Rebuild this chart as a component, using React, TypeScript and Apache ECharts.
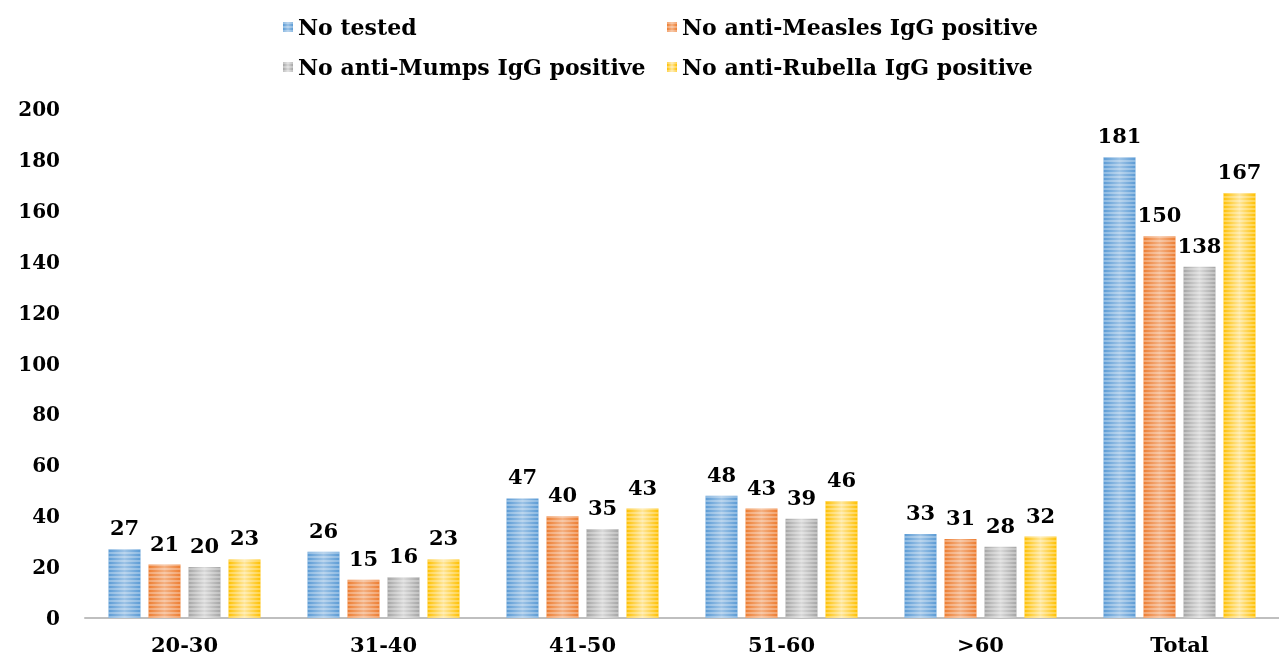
import React, { useEffect, useRef } from "react";
import * as echarts from "echarts";

const categories = ["20-30", "31-40", "41-50", "51-60", ">60", "Total"];
const seriesNames = [
  "No tested",
  "No anti-Measles IgG positive",
  "No anti-Mumps IgG positive",
  "No anti-Rubella IgG positive",
];
const tested = [27, 26, 47, 48, 33, 181];
const measles = [21, 15, 40, 43, 31, 150];
const mumps = [20, 16, 35, 39, 28, 138];
const rubella = [23, 23, 43, 46, 32, 167];
const yTicks = { min: 0, max: 200, interval: 20 };

const colors = ["#5B9BD5", "#ED7D31", "#A5A5A5", "#FFC000"];
const lighter = ["#9DC3E6", "#F4B183", "#D9D9D9", "#FFE699"];
const FONT = "'DejaVu Serif', serif";

export default function App() {
  const ref = useRef<HTMLDivElement>(null);
  useEffect(() => {
    if (!ref.current) return;
    const chart = echarts.init(ref.current, undefined, { renderer: "svg" });
    const values = [tested, measles, mumps, rubella];
    const legendPos = [
      { left: 278, top: 11 },
      { left: 662, top: 11 },
      { left: 278, top: 51 },
      { left: 662, top: 51 },
    ];
    chart.setOption({
      animation: false,
      legend: seriesNames.map((n, i) => ({
        data: [n],
        left: legendPos[i].left,
        top: legendPos[i].top,
        itemWidth: 10,
        itemHeight: 10,
        itemGap: 4,
        icon: "rect",
        textStyle: { fontFamily: FONT, fontWeight: "bold", fontSize: 22, color: "#000" },
      })),
      grid: { left: 85, right: 0, top: 109, bottom: 46, containLabel: false },
      xAxis: {
        type: "category",
        data: categories,
        axisLine: { lineStyle: { color: "#BFBFBF", width: 2 } },
        axisTick: { show: false },
        axisLabel: { fontFamily: FONT, fontWeight: "bold", fontSize: 21, color: "#000", margin: 16 },
      },
      yAxis: {
        type: "value",
        min: yTicks.min,
        max: yTicks.max,
        interval: yTicks.interval,
        axisLine: { show: false },
        axisTick: { show: false },
        splitLine: { show: false },
        axisLabel: { fontFamily: FONT, fontWeight: "bold", fontSize: 20, color: "#000", margin: 25 },
      },
      series: seriesNames.map((n, i) => ({
        name: n,
        type: "bar",
        data: values[i],
        barWidth: 32,
        barGap: "25%",
        itemStyle: {
          color: new echarts.graphic.LinearGradient(0, 0, 1, 0, [
            { offset: 0, color: colors[i] },
            { offset: 0.5, color: lighter[i] },
            { offset: 1, color: colors[i] },
          ]),
          decal: {
            symbol: "rect",
            symbolSize: 1,
            dashArrayX: [1, 0],
            dashArrayY: [2, 2],
            color: "rgba(255,255,255,0.3)",
          },
        },
        label: {
          show: true,
          position: "top",
          distance: 11,
          fontFamily: FONT,
          fontWeight: "bold",
          fontSize: 21,
          color: "#000",
        },
      })),
    });
    return () => chart.dispose();
  }, []);
  return <div ref={ref} style={{ position: "fixed", left: 0, top: 0, width: 1279, height: 664 }} />;
}
